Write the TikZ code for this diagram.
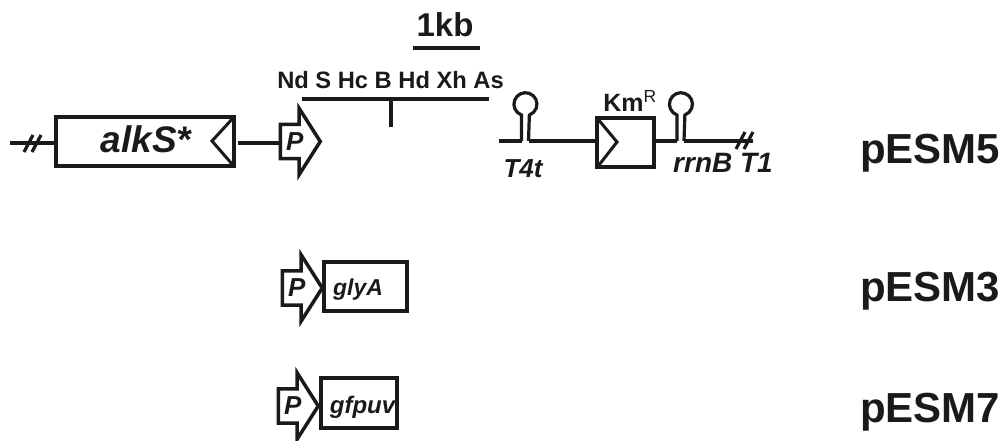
\documentclass[tikz,border=0pt]{standalone}
\usepackage{fontspec}
\setmainfont{Liberation Sans}
\usetikzlibrary{shapes.arrows}
\definecolor{myblack}{HTML}{1A1A1A}
\newcommand{\genetext}[3]{\hspace*{#1}\smash{\raisebox{#2}{#3}}}

\tikzset{
    gene/.style={draw=myblack,line width=3.5pt,rectangle,inner sep=0pt,text=myblack,font=\fontsize{#1}{#1}\selectfont\bfseries\itshape},
    promoter/.style={draw=myblack,line width=3.5pt,single arrow,anchor=west,inner xsep=0pt,inner ysep=6.5pt,
                     minimum height=40pt,single arrow head extend=16pt,
                     single arrow tip angle=115,single arrow head indent=0pt,
                     text=myblack,font=\fontsize{26}{26}\selectfont\bfseries\itshape},
    wire/.style={draw=myblack,line width=3.2pt},
    tag/.style={text=myblack,inner sep=0pt,anchor=base,font=\fontsize{#1}{#1}\selectfont\bfseries},
    tagit/.style={text=myblack,inner sep=0pt,anchor=base,font=\fontsize{#1}{#1}\selectfont\bfseries\itshape},
    pics/hairpin/.style={code={
        \draw[wire] (-3.5,0) -- (-3.5,-26) arc[start angle=110,end angle=430,radius=11.5] -- (3.5,0);
        \coordinate (-left) at (-3.5,0);
        \coordinate (-right) at (3.5,0);
    }},
    pics/breakmark/.style={code={
        \draw[wire] (-6,9) -- (3,-8) (2,9) -- (11,-8);
    }}
}

\begin{document}
\begin{tikzpicture}[x=1pt,y=-1pt]
\useasboundingbox (0,0) rectangle (1006,441);

% top row
\node[tag=33] (scale) at (445,37) {1kb};
\coordinate (scaleL) at (413,48);
\coordinate (scaleR) at (480,48);
\draw[wire,line width=4pt] (scaleL) -- (scaleR);

\coordinate (breakL) at (10,143);
\coordinate (alkSR) at (238,143);
\node[gene=37,minimum width=178pt,minimum height=49pt] (alkS) at (145,141.5) {\genetext{2pt}{-11.5pt}{alkS*}};
\draw[wire,line width=3pt] (alkS.north east) ++(-2,2) -- (212,141) -- (232,164);
\node[promoter] (Pa) at (278.5,141.5) {P};
\draw[wire] (breakL) -- (alkS.west |- breakL);
\draw[wire] (alkSR) -- (Pa.west |- alkSR);
\pic at (30,143) {breakmark};

\node[tag=23.7] (sites) at (390.5,89) {Nd S Hc B Hd Xh As};
\coordinate (mcsL) at (302,99);
\coordinate (mcsR) at (489,99);
\coordinate (mcsM) at (391,99);
\coordinate (mcsT) at (391,127);
\draw[wire,line width=4pt] (mcsL) -- (mcsR);
\draw[wire] (mcsM) -- (mcsT);

\pic (t4) at (525,141) {hairpin};
\coordinate (t4end) at (499,141);
\node[gene=10,minimum width=57pt,minimum height=49pt] (kan) at (625.5,142.5) {};
\draw[wire,line width=3pt] (kan.north west) ++(2,2) -- (617,142) -- (599,165);
\pic (rrn) at (680.5,141) {hairpin};
\coordinate (rrnend) at (753,141);
\draw[wire] (t4end) -- (t4-left);
\draw[wire] (t4-right) -- (kan.west |- t4-right);
\draw[wire] (kan.east |- rrn-left) -- (rrn-left);
\draw[wire] (rrn-right) -- (rrnend);
\pic at (742,140) {breakmark};

\node[tag=25] (km) at (630,112) {Km\textsuperscript{\mdseries R}};
\node[tagit=26] (t4t) at (523,177) {T4t};
\node[tagit=28] (rrnt) at (723,172) {rrnB T1};
\node[tag=42,anchor=base west] (esm5) at (860,163) {pESM5};

% middle row
\node[promoter] (Pb) at (280.5,288) {P};
\node[gene=23,minimum width=83pt,minimum height=49pt] (gly) at (365.5,286.5) {\genetext{-15pt}{-8.5pt}{glyA}};
\node[tag=42,anchor=base west] (esm3) at (860,301) {pESM3};

% bottom row
\node[promoter] (Pc) at (276.5,406) {P};
\node[gene=24,minimum width=76pt,minimum height=50pt] (gfp) at (359,403) {\genetext{7pt}{-10pt}{gfpuv}};
\node[tag=42,anchor=base west] (esm7) at (860,422) {pESM7};
\end{tikzpicture}
\end{document}
